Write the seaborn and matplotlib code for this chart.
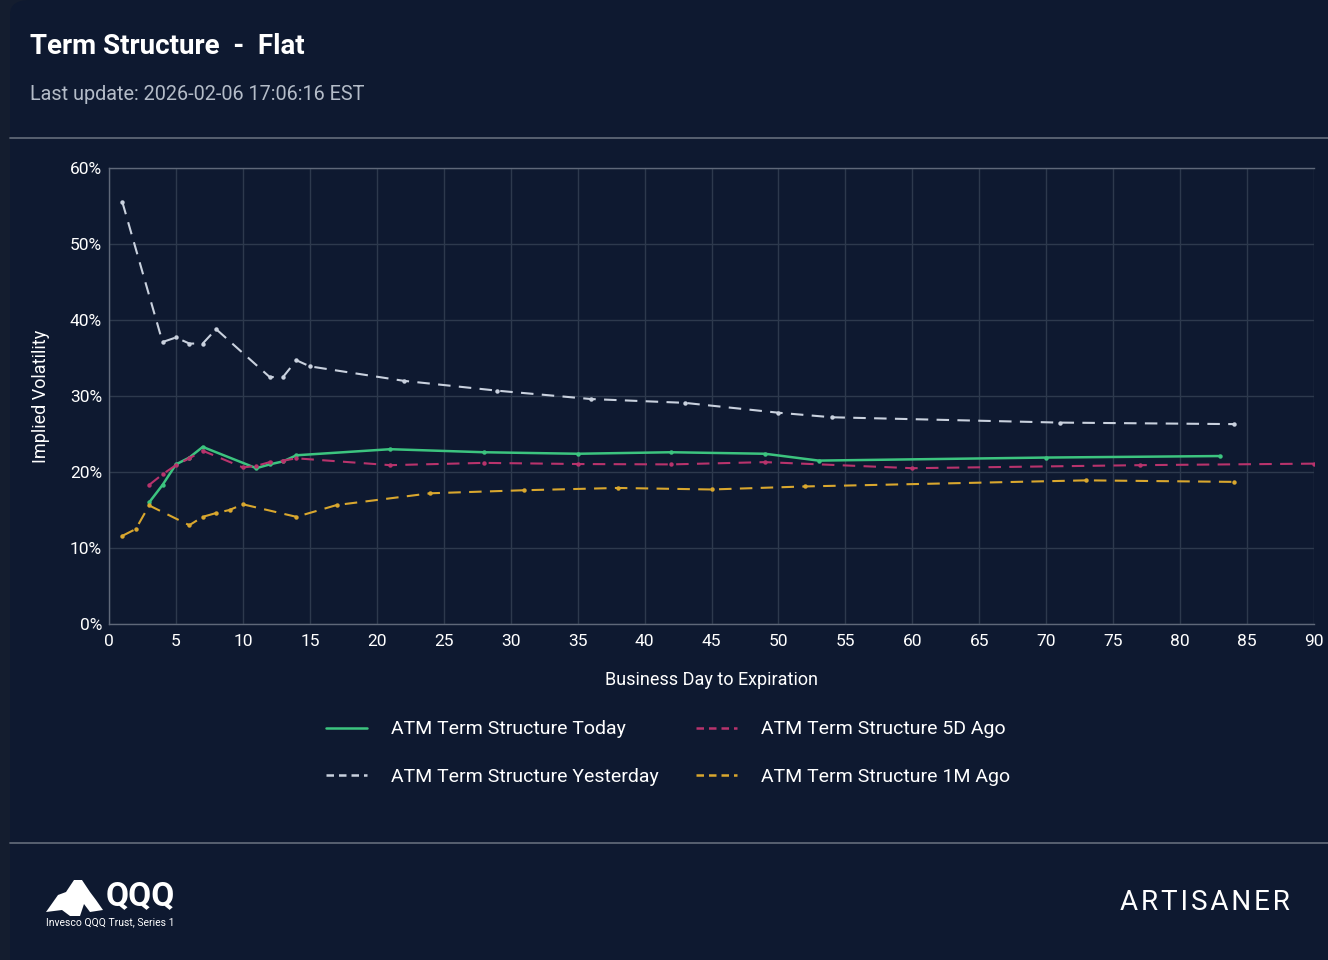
import matplotlib
matplotlib.use("Agg")
import matplotlib.pyplot as plt
import seaborn as sns
import pandas as pd
from matplotlib.lines import Line2D
from matplotlib.patches import FancyBboxPatch, Polygon
from matplotlib.ticker import FuncFormatter, MultipleLocator

# ── Data (business days to expiry, ATM implied vol in %) ─────────────
today_days = [3, 4, 5, 6, 7, 11, 12, 13, 14, 21, 28, 35, 42, 49, 53, 70, 83]
today_iv = [16.0, 18.3, 21.0, 21.9, 23.3, 20.5, 21.0, 21.4, 22.2, 23.0, 22.6, 22.4, 22.6, 22.4, 21.5, 21.9, 22.1]

yest_days = [1, 4, 5, 6, 7, 8, 12, 13, 14, 15, 22, 29, 36, 43, 50, 54, 71, 84]
yest_iv = [55.5, 37.1, 37.7, 36.9, 36.9, 38.8, 32.5, 32.5, 34.7, 33.9, 32.0, 30.7, 29.6, 29.1, 27.8, 27.2, 26.5, 26.3]

d5_days = [3, 4, 5, 6, 7, 10, 11, 12, 13, 14, 21, 28, 35, 42, 49, 60, 77, 90]
d5_iv = [18.3, 19.7, 20.9, 21.8, 22.8, 20.6, 20.8, 21.3, 21.5, 21.8, 20.9, 21.2, 21.05, 21.0, 21.3, 20.5, 20.9, 21.1]

m1_days = [1, 2, 3, 6, 7, 8, 9, 10, 14, 17, 24, 31, 38, 45, 52, 73, 84]
m1_iv = [11.6, 12.5, 15.6, 13.0, 14.1, 14.6, 15.0, 15.75, 14.1, 15.65, 17.2, 17.6, 17.9, 17.7, 18.1, 18.9, 18.7]

SERIES = ["ATM Term Structure Today", "ATM Term Structure Yesterday",
          "ATM Term Structure 5D Ago", "ATM Term Structure 1M Ago"]
COLORS = ["#3cc47f", "#c9d1de", "#b8336c", "#d9a72e"]

# ── Style ────────────────────────────────────────────────────────────
BG_OUT = "#141d2f"
BG = "#0e1930"
sns.set_theme(style="dark")
plt.rcParams["font.family"] = ["Roboto", "DejaVu Sans"]

fig = plt.figure(figsize=(13.28, 9.6), dpi=100, facecolor=BG_OUT)
card = FancyBboxPatch((10 / 1328, -0.05), 1.1, 1.05, boxstyle="round,pad=0,rounding_size=0.015",
                      transform=fig.transFigure, facecolor=BG, edgecolor="none", zorder=-5)
fig.patches.append(card)

ax = fig.add_axes([109 / 1328, 1 - 624 / 960, (1314 - 109) / 1328, (624 - 168) / 960])
ax.set_zorder(2)
ax.set_facecolor(BG)

frames = [
    (today_days, today_iv),
    (yest_days, yest_iv),
    (d5_days, d5_iv),
    (m1_days, m1_iv),
]
for (days, iv), name, color in zip(frames, SERIES, COLORS):
    df = pd.DataFrame({"day": days, "iv": iv})
    dashed = name != SERIES[0]
    sns.lineplot(data=df, x="day", y="iv", ax=ax, color=color,
                 linewidth=1.5 if dashed else 1.8, marker="o", markersize=3.2,
                 markeredgewidth=0, legend=False, zorder=3)
    if dashed:
        ax.lines[-1].set_dashes((6, 4))

ax.set_xlim(0, 90)
ax.set_ylim(0, 60)
ax.xaxis.set_major_locator(MultipleLocator(5))
ax.yaxis.set_major_locator(MultipleLocator(10))
ax.yaxis.set_major_formatter(FuncFormatter(lambda v, _: f"{v:.0f}%"))
ax.grid(True, color="#2d394d", linewidth=1)
ax.spines["right"].set_visible(False)
for side in ["left", "bottom", "top"]:
    ax.spines[side].set_color("#5f6879")
    ax.spines[side].set_linewidth(1)
ax.tick_params(axis="both", colors="white", labelsize=12.5, length=0)
ax.tick_params(axis="x", pad=7)
ax.tick_params(axis="y", pad=5)
ax.set_xlabel("Business Day to Expiration", color="white", fontsize=13, labelpad=16)
ax.set_ylabel("Implied Volatility", color="white", fontsize=13, labelpad=14)

# ── Legend ───────────────────────────────────────────────────────────
handles = [
    Line2D([], [], color=COLORS[0], linewidth=1.8),
    Line2D([], [], color=COLORS[1], linewidth=1.8, dashes=(3, 2)),
    Line2D([], [], color=COLORS[2], linewidth=1.8, dashes=(3, 2)),
    Line2D([], [], color=COLORS[3], linewidth=1.8, dashes=(3, 2)),
]
fig.legend(handles, SERIES, ncol=2, loc="center", bbox_to_anchor=(668 / 1328, 1 - 753 / 960),
           frameon=False, fontsize=14, labelcolor="white", handlelength=2.1,
           handletextpad=1.25, columnspacing=1.9, labelspacing=1.5)

# ── Header / footer ──────────────────────────────────────────────────
fig.text(30 / 1328, 1 - 47 / 960, "Term Structure  -  Flat", color="white",
         fontsize=20, fontweight="bold", va="center", ha="left")
fig.text(30 / 1328, 1 - 94 / 960, "Last update: 2026-02-06 17:06:16 EST", color="#b4bcc8",
         fontsize=14.3, va="center", ha="left")
for yy in [138, 843]:
    fig.add_artist(Line2D([10 / 1328, 1], [1 - yy / 960] * 2, color="#5d6675", linewidth=1.3))

mountain = Polygon([(46, 912), (58, 895), (66, 892), (74, 880), (82, 880), (90, 892),
                    (96, 900), (103, 910), (90, 912), (84, 904), (80, 916), (70, 916), (62, 910)],
                   closed=True, transform=fig.transFigure, facecolor="white", edgecolor="none")
mountain.set_xy([(x / 1328, 1 - y / 960) for x, y in mountain.get_xy()])
fig.patches.append(mountain)
fig.text(106 / 1328, 1 - 896 / 960, "QQQ", color="white", fontsize=24, fontweight="bold",
         va="center", ha="left")
fig.text(46 / 1328, 1 - 922 / 960, "Invesco QQQ Trust, Series 1", color="white",
         fontsize=7.5, va="center", ha="left")
fig.text(1290 / 1328, 1 - 903 / 960, "\u200a".join("ARTISANER"),
         color="white", fontsize=20, va="center", ha="right")

fig.savefig("out.png", dpi=100, facecolor=BG_OUT)
